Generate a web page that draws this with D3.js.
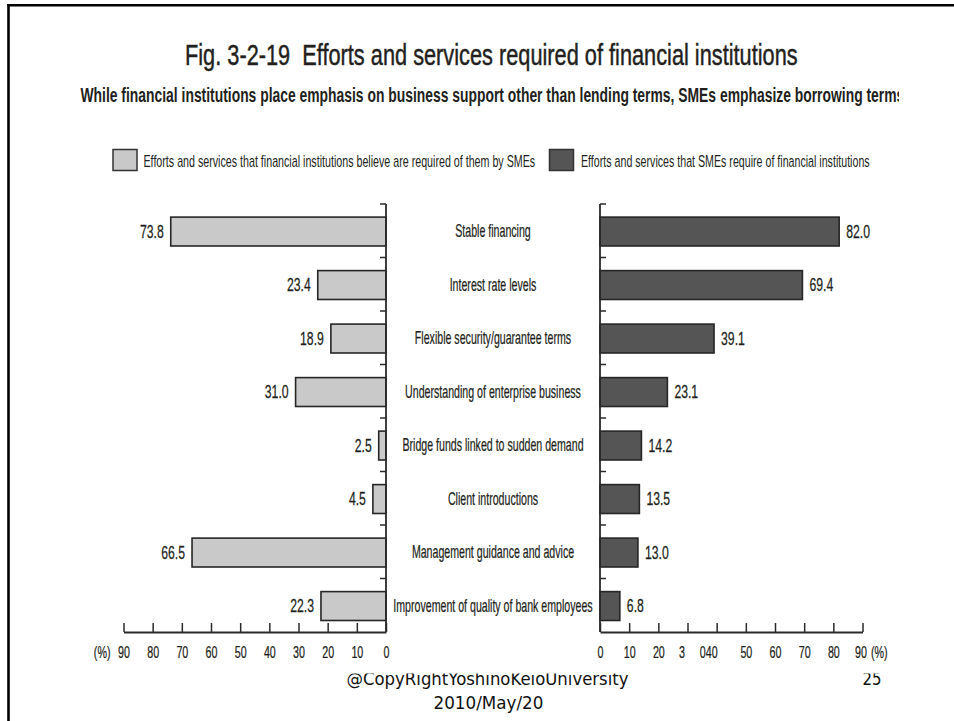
<!DOCTYPE html>
<html>
<head>
<meta charset="utf-8">
<script src="https://cdn.jsdelivr.net/npm/d3@7/dist/d3.min.js"></script>
<style>
  html, body { margin: 0; padding: 0; background: #fff; }
  svg { display: block; }
  text { white-space: pre; }
</style>
</head>
<body>
<svg id="chart" width="954" height="721"></svg>
<script>
// ---- data ----
const categories = [
  "Stable financing",
  "Interest rate levels",
  "Flexible security/guarantee terms",
  "Understanding of enterprise business",
  "Bridge funds linked to sudden demand",
  "Client introductions",
  "Management guidance and advice",
  "Improvement of quality of bank employees"
];
// Efforts and services that financial institutions believe are required of them by SMEs (%)
const institutionValues = [73.8, 23.4, 18.9, 31.0, 2.5, 4.5, 66.5, 22.3];
// Efforts and services that SMEs require of financial institutions (%)
const smeValues = [82.0, 69.4, 39.1, 23.1, 14.2, 13.5, 13.0, 6.8];

const tickValues = [0, 10, 20, 30, 40, 50, 60, 70, 80, 90];
const leftTickLabels = ["0", "10", "20", "30", "40", "50", "60", "70", "80", "90"];
const rightTickLabels = ["0", "10", "20", "3", "040", "50", "60", "70", "80", "90"];
const unitLabel = "(%)";

const legendLabels = [
  "Efforts and services that financial institutions believe are required of them by SMEs",
  "Efforts and services that SMEs require of financial institutions"
];
const titleText = "Fig. 3-2-19  Efforts and services required of financial institutions";
const subtitleText = "While financial institutions place emphasis on business support other than lending terms, SMEs emphasize borrowing terms";
const footerLines = ["@CopyRightYoshinoKeioUniversity", "2010/May/20"];
const pageNumber = "25";

// ---- styles ----
const FONT = "'Liberation Sans', Arial, Helvetica, sans-serif";
const INK = "#231f20";
const LIGHT = "#c9c9c9";
const DARK = "#555555";

const svg = d3.select("#chart");

// narrow text: draw at (x,y) squeezed horizontally by factor s
function narrowText(g, x, y, s, str) {
  return g.append("text")
    .attr("transform", `translate(${x},${y}) scale(${s},1)`)
    .text(str);
}

// text whose left edge sits at x and which is squeezed to span the given width
function fitText(g, x, y, width, str) {
  const t = g.append("text").attr("x", 0).attr("y", 0).text(str);
  const len = t.node().getComputedTextLength();
  t.attr("transform", `translate(${x},${y}) scale(${width / len},1)`);
  return t;
}

// ---- page frame ----
svg.append("line").attr("x1", 8.5).attr("x2", 8.5).attr("y1", 4).attr("y2", 721)
  .attr("stroke", "#000").attr("stroke-width", 2.6);
svg.append("line").attr("x1", 7.2).attr("x2", 954).attr("y1", 5.3).attr("y2", 5.3)
  .attr("stroke", "#000").attr("stroke-width", 2.6);

// ---- title / subtitle ----
const titleG = svg.append("g").attr("font-family", FONT).attr("font-size", 29).attr("fill", INK)
  .attr("stroke", INK).attr("stroke-width", 0.45);
fitText(titleG, 185, 65, 613, titleText);

svg.append("clipPath").attr("id", "subClip")
  .append("rect").attr("x", 0).attr("y", 0).attr("width", 899).attr("height", 130);
const subG = svg.append("g").attr("clip-path", "url(#subClip)")
  .attr("font-family", FONT).attr("font-size", 21).attr("font-weight", "bold").attr("fill", INK);
fitText(subG, 80.5, 102, 824, subtitleText);

// ---- legend ----
const legendItems = [
  { label: legendLabels[0], fill: LIGHT, box: 113, tx: 143.5, w: 392 },
  { label: legendLabels[1], fill: DARK, box: 549.5, tx: 581, w: 289 }
];
const legend = svg.append("g").attr("font-family", FONT).attr("font-size", 17).attr("fill", INK);
legendItems.forEach(d => {
  legend.append("rect")
    .attr("x", d.box).attr("y", 149.5).attr("width", 24).attr("height", 21)
    .attr("fill", d.fill).attr("stroke", "#333").attr("stroke-width", 1.5);
  fitText(legend, d.tx, 166.5, d.w, d.label);
});

// ---- scales ----
const axisY = 632;
const xLeft = d3.scaleLinear().domain([0, 90]).range([386, 123.5]);
const xRight = d3.scaleLinear().domain([0, 90]).range([600, 862.5]);
const y = d3.scaleBand().domain(categories).range([204, axisY])
  .paddingInner(0.46).paddingOuter(0.23);

const leftData = categories.map((c, i) => ({ c, v: institutionValues[i] }));
const rightData = categories.map((c, i) => ({ c, v: smeValues[i] }));

// ---- bars ----
svg.append("g").selectAll("rect").data(leftData).join("rect")
  .attr("x", d => xLeft(d.v)).attr("y", d => y(d.c) + 0.8)
  .attr("width", d => xLeft(0) - xLeft(d.v)).attr("height", y.bandwidth())
  .attr("fill", LIGHT).attr("stroke", "#262626").attr("stroke-width", 1.6);

svg.append("g").selectAll("rect").data(rightData).join("rect")
  .attr("x", xRight(0)).attr("y", d => y(d.c) + 0.8)
  .attr("width", d => xRight(d.v) - xRight(0)).attr("height", y.bandwidth())
  .attr("fill", DARK).attr("stroke", "#262626").attr("stroke-width", 1.6);

// ---- value labels ----
const valG = svg.append("g").attr("font-family", FONT).attr("font-size", 18).attr("fill", INK)
  .attr("stroke", INK).attr("stroke-width", 0.25);
leftData.forEach(d => {
  narrowText(valG, xLeft(d.v) - 7, y(d.c) + y.bandwidth() / 2 + 7, 0.68, d.v.toFixed(1))
    .attr("text-anchor", "end");
});
rightData.forEach(d => {
  narrowText(valG, xRight(d.v) + 7, y(d.c) + y.bandwidth() / 2 + 7, 0.68, d.v.toFixed(1))
    .attr("text-anchor", "start");
});

// ---- category labels ----
const catG = svg.append("g").attr("font-family", FONT).attr("font-size", 18).attr("fill", INK)
  .attr("stroke", INK).attr("stroke-width", 0.25)
  .attr("text-anchor", "middle");
categories.forEach(c => {
  narrowText(catG, 493, y(c) + y.bandwidth() / 2 + 6.5, 0.59, c);
});

// ---- vertical category axes (ticks at band boundaries) ----
const half = (y.step() - y.bandwidth()) / 2;
const bounds = categories.map(c => y(c) - half);
const vAx = svg.append("g").attr("stroke", "#2a2a2a").attr("fill", "none");
vAx.append("line").attr("x1", xLeft(0)).attr("x2", xLeft(0)).attr("y1", bounds[0]).attr("y2", axisY)
  .attr("stroke-width", 1.8);
vAx.append("line").attr("x1", xRight(0)).attr("x2", xRight(0)).attr("y1", bounds[0]).attr("y2", axisY)
  .attr("stroke-width", 1.8);
bounds.forEach(b => {
  vAx.append("line").attr("x1", xLeft(0) - 6).attr("x2", xLeft(0)).attr("y1", b).attr("y2", b)
    .attr("stroke-width", 1.5);
  vAx.append("line").attr("x1", xRight(0)).attr("x2", xRight(0) + 6).attr("y1", b).attr("y2", b)
    .attr("stroke-width", 1.5);
});

// ---- bottom value axes ----
function drawAxis(scale, labels, shifts) {
  const g = svg.append("g").attr("transform", `translate(0,${axisY})`)
    .call(d3.axisBottom(scale).tickValues(tickValues).tickSize(-9).tickSizeOuter(0)
      .tickPadding(15).tickFormat((d, i) => labels[i]));
  g.select(".domain").attr("stroke", "#2a2a2a").attr("stroke-width", 2);
  g.selectAll(".tick line").attr("stroke", "#2a2a2a").attr("stroke-width", 1.5);
  g.selectAll(".tick text")
    .attr("font-family", FONT).attr("font-size", 16).attr("fill", INK)
    .attr("stroke", INK).attr("stroke-width", 0.25)
    .attr("transform", (d, i) => `translate(${shifts[i] || 0},0) scale(0.67,1)`);
  return g;
}
drawAxis(xLeft, leftTickLabels, []);
drawAxis(xRight, rightTickLabels, [0, 0, 0, -6, -8.5, 0, 0, 0, 0, -2]);

const unitG = svg.append("g").attr("font-family", FONT).attr("font-size", 16).attr("fill", INK)
  .attr("stroke", INK).attr("stroke-width", 0.25);
narrowText(unitG, 110.5, 658, 0.67, unitLabel).attr("text-anchor", "end");
narrowText(unitG, 871, 658, 0.67, unitLabel).attr("text-anchor", "start");

// ---- footer ----
svg.append("clipPath").attr("id", "footClip")
  .append("rect").attr("x", 0).attr("y", 673.5).attr("width", 954).attr("height", 50);
const foot = svg.append("g").attr("font-family", "'DejaVu Sans', Verdana, sans-serif")
  .attr("font-size", 17).attr("fill", "#111");
const footTop = foot.append("g").attr("clip-path", "url(#footClip)");
fitText(footTop, 346.5, 685, 282, footerLines[0]);
fitText(footTop, 862.5, 685, 19, pageNumber);
fitText(foot, 433.5, 709, 110, footerLines[1]);
</script>
</body>
</html>
